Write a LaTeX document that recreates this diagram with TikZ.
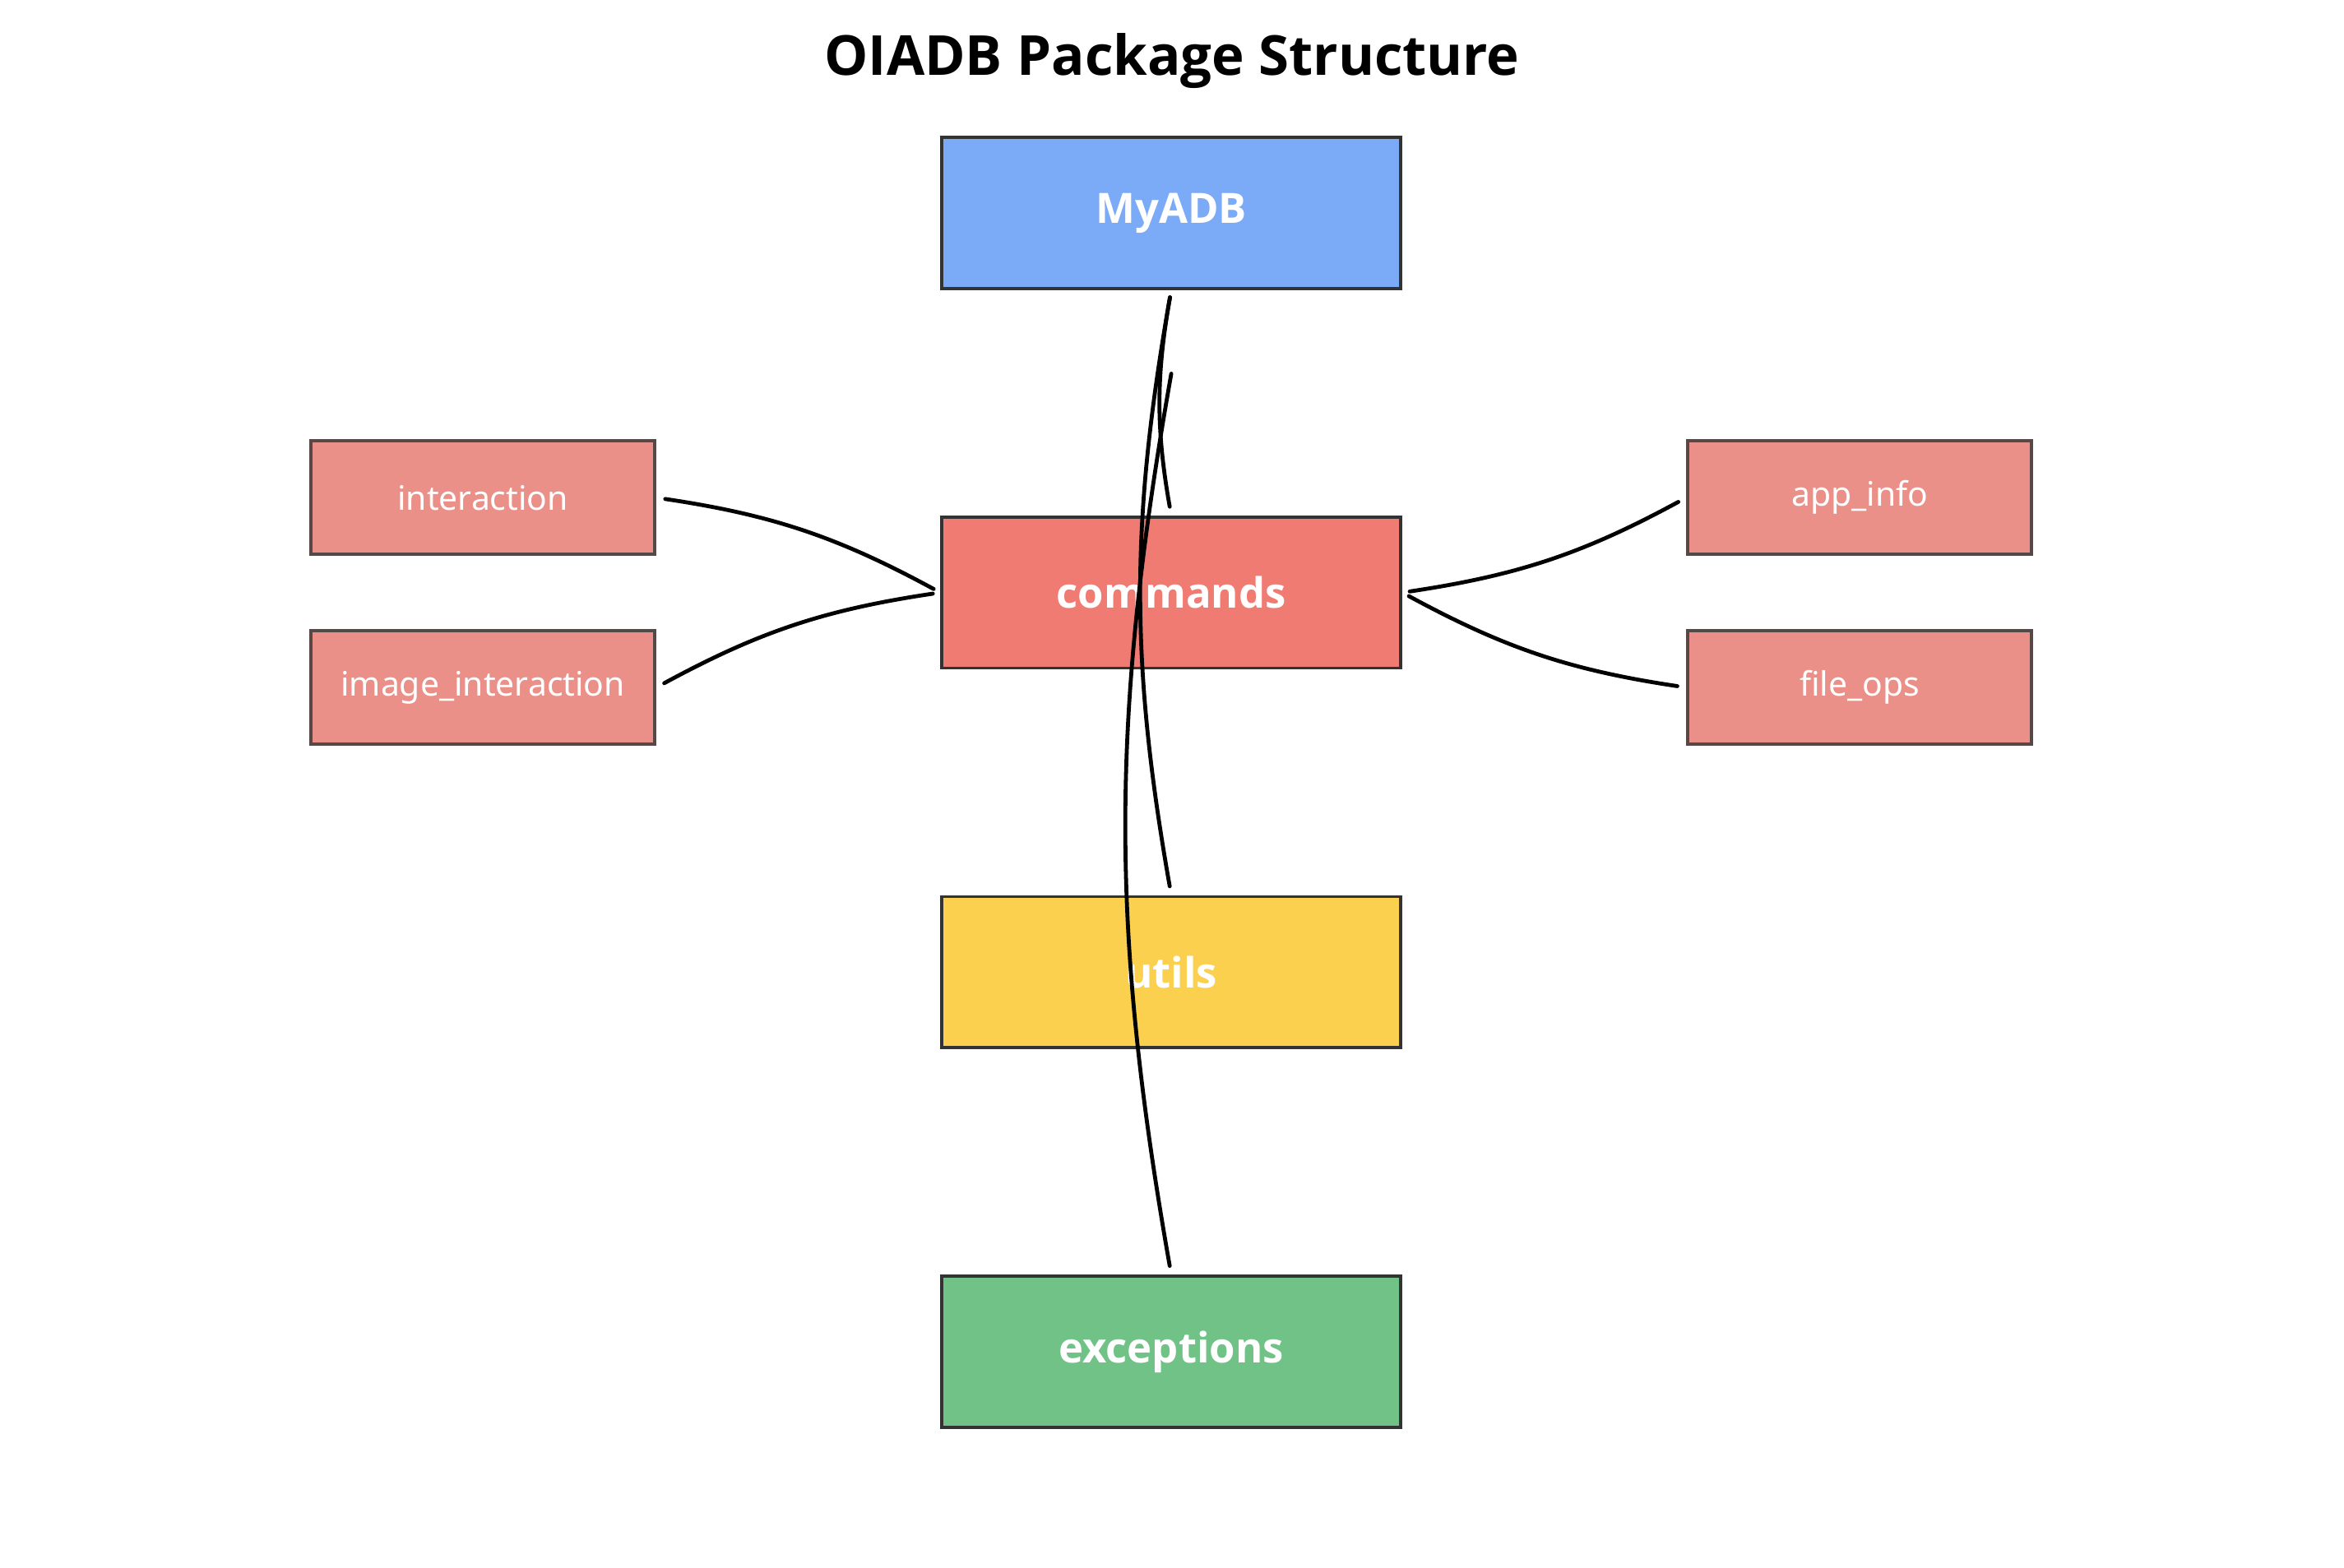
\documentclass[tikz,border=0pt]{standalone}
\usepackage{fontspec}
\setmainfont{Noto Sans}
\newfontfamily\osans{Open Sans}
\usetikzlibrary{calc}
\definecolor{cblue}{HTML}{7BAAF7}
\definecolor{cred}{HTML}{F07B72}
\definecolor{cyellow}{HTML}{FBD04E}
\definecolor{cgreen}{HTML}{71C287}
\definecolor{csub}{HTML}{EA9088}
\definecolor{cborder}{HTML}{333333}
\definecolor{csubborder}{HTML}{574848}
\tikzset{
  mainbox/.style={draw=cborder, line width=0.6pt, minimum width=3.07cm, minimum height=1.01cm, inner sep=0pt, text=white, font=\osans\bfseries\fontsize{7.95}{10}\selectfont},
  subbox/.style={draw=csubborder, line width=0.6pt, fill=csub, minimum width=2.30cm, minimum height=0.76cm, inner sep=0pt, text=white, font=\fontsize{6.4}{8}\selectfont},
  link/.style={line width=0.75pt, line cap=round, shorten <=0.05cm, shorten >=0.06cm},
}
\begin{document}
\begin{tikzpicture}
\useasboundingbox (0,0) rectangle (15.68,-10.49);
\node[font=\osans\bfseries\fontsize{10.5}{12}\selectfont] (title) at (7.84,-0.41) {OIADB Package Structure};
\node[mainbox, fill=cblue] (myadb) at (7.835,-1.425) {MyADB};
\node[mainbox, fill=cred] (commands) at (7.835,-3.965) {commands};
\node[mainbox, fill=cyellow] (utils) at (7.835,-6.505) {utils};
\node[mainbox, fill=cgreen] (exceptions) at (7.835,-9.045) {exceptions};
\node[subbox] (interaction) at (3.23,-3.33) {interaction};
\node[subbox] (imageint) at (3.23,-4.60) {image\_interaction};
\node[subbox] (appinfo) at (12.44,-3.33) {app\_info};
\node[subbox] (fileops) at (12.44,-4.60) {file\_ops};
\coordinate (bstart) at ($(myadb.south)+(0,-0.56)$);
\draw[link] (myadb.south) to[bend right=10] (commands.north);
\draw[link] (myadb.south) to[bend right=10] (utils.north);
\draw[link, shorten <=0pt] (bstart) to[bend right=10] (exceptions.north);
\draw[link] (commands.west) to[bend right=10] (interaction.east);
\draw[link] (commands.west) to[bend right=10] (imageint.east);
\draw[link] (commands.east) to[bend right=10] (appinfo.west);
\draw[link] (commands.east) to[bend right=10] (fileops.west);
\end{tikzpicture}
\end{document}
